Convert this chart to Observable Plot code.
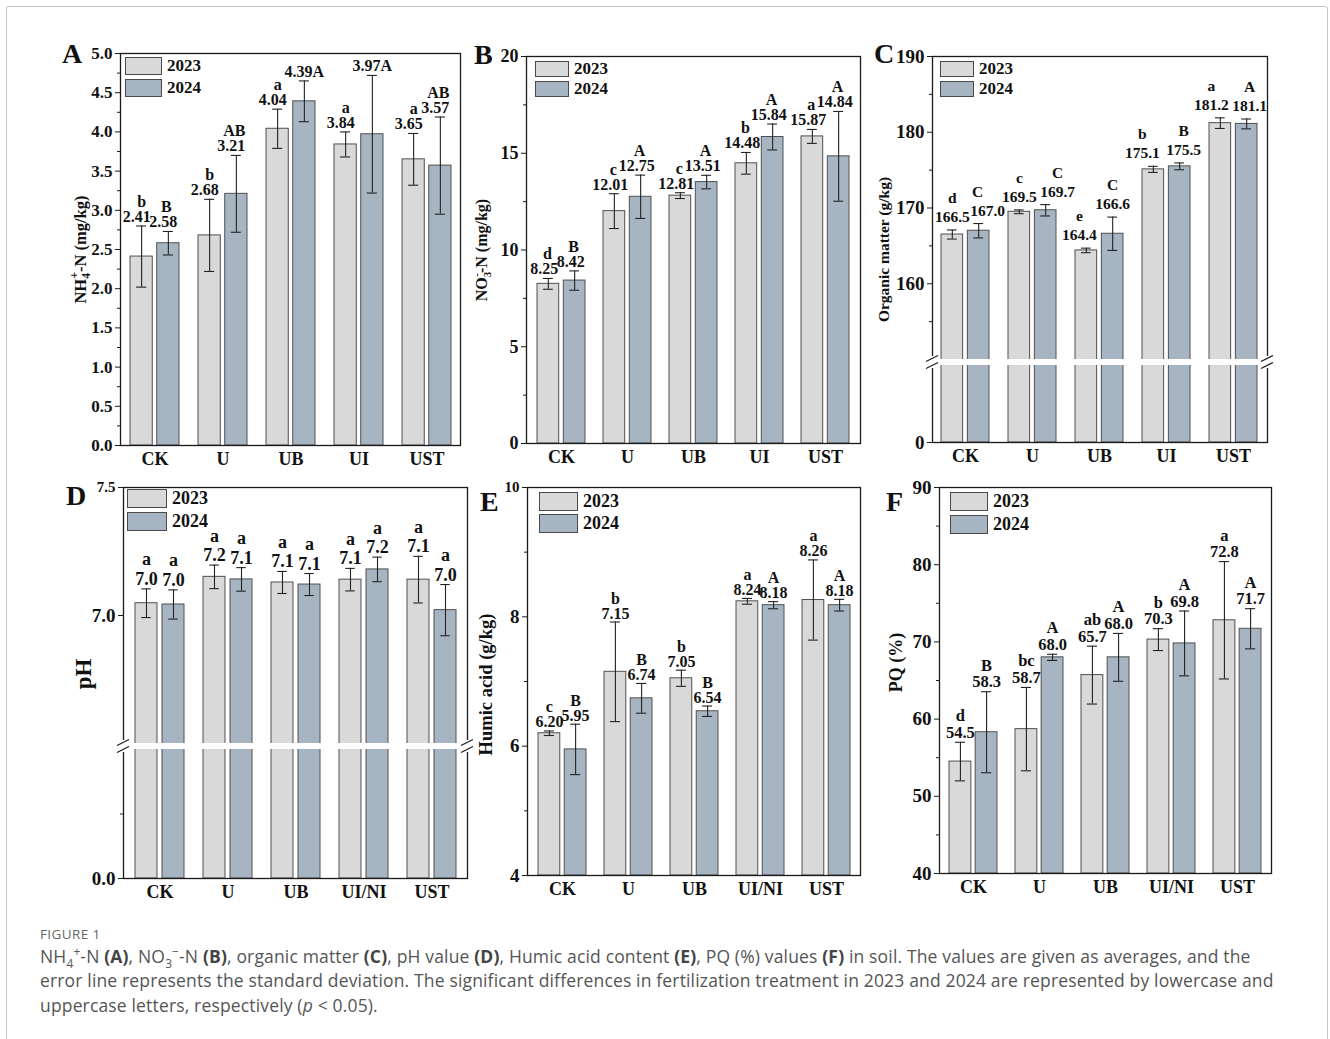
<!DOCTYPE html>
<html>
<head>
<meta charset="utf-8">
<script src="https://cdn.jsdelivr.net/npm/d3@7"></script>
<script src="https://cdn.jsdelivr.net/npm/@observablehq/plot@0.6"></script>
<style>
  body { margin: 0; background: #fff; }
  #root { position: relative; width: 1330px; height: 1039px; overflow: hidden; font-family: "Liberation Serif", "Times New Roman", serif; }
  .border { position: absolute; left: 6px; top: 6px; width: 1320px; height: 1100px; border: 1px solid #c4c4c4; border-radius: 3px; }
  .panel { position: absolute; }
  .plabel { position: absolute; font-weight: bold; font-size: 28px; line-height: 1; color: #111; }
  .legend { position: absolute; font-weight: bold; color: #111; }
  .legend .row { position: absolute; display: flex; align-items: center; white-space: nowrap; }
  .legend .sw { box-sizing: border-box; border: 1.3px solid #4a4a4a; margin-right: 5px; }
  .captitle { position: absolute; left: 40px; top: 925px; font-family: "Open Sans", sans-serif; font-size: 13.5px; color: #666; letter-spacing: 0.4px; }
  .cap { position: absolute; left: 40px; top: 944px; font-family: "Open Sans", sans-serif; font-size: 17.5px; line-height: 24.3px; color: #555; white-space: nowrap; letter-spacing: 0.16px; }
  .cap sub, .cap sup { font-size: 68%; line-height: 0; }
  .cap b { font-weight: 700; color: #444; }
</style>
</head>
<body>
<div id="root">
  <div class="border"></div>
</div>
<script>
// ---------- data ----------
const categoriesTop = ["CK", "U", "UB", "UI", "UST"];
const categoriesBottom = ["CK", "U", "UB", "UI/NI", "UST"];
const years = ["2023", "2024"];

// A: NH4+-N (mg/kg)
const nh4Mean2023 = [2.41, 2.68, 4.04, 3.84, 3.65];
const nh4Sd2023   = [0.39, 0.46, 0.25, 0.16, 0.33];
const nh4Mean2024 = [2.58, 3.21, 4.39, 3.97, 3.57];
const nh4Sd2024   = [0.15, 0.49, 0.26, 0.75, 0.62];
const nh4Letters2023 = ["b", "b", "a", "a", "a"];
const nh4Letters2024 = ["B", "AB", "A", "A", "AB"];
const nh4Ticks = [0, 0.5, 1.0, 1.5, 2.0, 2.5, 3.0, 3.5, 4.0, 4.5, 5.0];
const nh4Minor = [0.25, 0.75, 1.25, 1.75, 2.25, 2.75, 3.25, 3.75, 4.25, 4.75];

// B: NO3--N (mg/kg)
const no3Mean2023 = [8.25, 12.01, 12.81, 14.48, 15.87];
const no3Sd2023   = [0.28, 0.90, 0.15, 0.56, 0.36];
const no3Mean2024 = [8.42, 12.75, 13.51, 15.84, 14.84];
const no3Sd2024   = [0.50, 1.12, 0.35, 0.67, 2.32];
const no3Letters2023 = ["d", "c", "c", "b", "a"];
const no3Letters2024 = ["B", "A", "A", "A", "A"];
const no3Ticks = [0, 5, 10, 15, 20];
const no3Minor = [2.5, 7.5, 12.5, 17.5];

// C: Organic matter (g/kg)
const omMean2023 = [166.5, 169.5, 164.4, 175.1, 181.2];
const omSd2023   = [0.6, 0.25, 0.3, 0.4, 0.7];
const omMean2024 = [167.0, 169.7, 166.6, 175.5, 181.1];
const omSd2024   = [0.95, 0.75, 2.2, 0.45, 0.65];
const omLetters2023 = ["d", "c", "e", "b", "a"];
const omLetters2024 = ["C", "C", "C", "B", "A"];
const omTicks = [0, 160, 170, 180, 190];
const omMinor = [155, 165, 175, 185];

// D: pH
const phMean2023 = [7.048, 7.151, 7.129, 7.14, 7.14];
const phSd2023   = [0.056, 0.046, 0.043, 0.044, 0.091];
const phMean2024 = [7.043, 7.141, 7.121, 7.180, 7.021];
const phSd2024   = [0.057, 0.046, 0.043, 0.048, 0.10];
const phLetters2023 = ["a", "a", "a", "a", "a"];
const phLetters2024 = ["a", "a", "a", "a", "a"];
const phTicks = [0, 7.0, 7.5];
const phMinor = [3.0];

// E: Humic acid (g/kg)
const haMean2023 = [6.20, 7.15, 7.05, 8.24, 8.26];
const haSd2023   = [0.035, 0.77, 0.125, 0.045, 0.62];
const haMean2024 = [5.95, 6.74, 6.54, 8.18, 8.18];
const haSd2024   = [0.39, 0.23, 0.08, 0.055, 0.09];
const haLetters2023 = ["c", "b", "b", "a", "a"];
const haLetters2024 = ["B", "B", "B", "A", "A"];
const haTicks = [4, 6, 8, 10];
const haMinor = [5, 7, 9];

// F: PQ (%)
const pqMean2023 = [54.5, 58.7, 65.7, 70.3, 72.8];
const pqSd2023   = [2.5, 5.4, 3.75, 1.42, 7.6];
const pqMean2024 = [58.3, 68.0, 68.0, 69.8, 71.7];
const pqSd2024   = [5.25, 0.4, 3.1, 4.2, 2.6];
const pqLetters2023 = ["d", "bc", "ab", "b", "a"];
const pqLetters2024 = ["B", "A", "A", "A", "A"];
const pqTicks = [40, 50, 60, 70, 80, 90];
const pqMinor = [45, 55, 65, 75, 85];

// ---------- styling / layout ----------
const fill2023 = "#d9d9d9";
const fill2024 = "#a7b5c2";

const panels = [
  { id: "A", cats: categoriesTop, m23: nh4Mean2023, sd23: nh4Sd2023, m24: nh4Mean2024, sd24: nh4Sd2024, l23: nh4Letters2023, l24: nh4Letters2024,
    L: 120, R: 460, T: 53, B: 445, domain: [0, 5], ticks: nh4Ticks, minor: nh4Minor, fmt: d => d.toFixed(1), vdig: 2,
    tfs: 17, lfs: 16, vgap: 4, lgap: 15, inline24: ["UB", "UI"],
    nudge: { v23: -5, v24: -5, l23: 0, l24: -2 },
    ylabel: "NH4+-N (mg/kg)", rich: 'NH<tspan font-size="11.5" dy="4">4</tspan><tspan font-size="11.5" dx="-5.5" dy="-11.5">+</tspan><tspan dy="7.5">-N (mg/kg)</tspan>',
    ylx: -40, yly: 0, ylfs: 16.5, leg: { dx: 5, dy: 4, w: 37, h: 18, gap: 4, fs: 17 }, letterPos: [62, 40] },
  { id: "B", cats: categoriesTop, m23: no3Mean2023, sd23: no3Sd2023, m24: no3Mean2024, sd24: no3Sd2024, l23: no3Letters2023, l24: no3Letters2024,
    L: 526, R: 860, T: 56, B: 443, domain: [0, 20], ticks: no3Ticks, minor: no3Minor, fmt: d => String(d), vdig: 2,
    tfs: 18, lfs: 16, vgap: 4, lgap: 15, inline24: [],
    nudge: { v23: -4, v24: -4, l23: -1, l24: -1 },
    ylabel: "NO3--N (mg/kg)", rich: 'NO<tspan font-size="11" dy="4">3</tspan><tspan font-size="11" dx="-5" dy="-11">-</tspan><tspan dy="7">-N (mg/kg)</tspan>',
    ylx: -45, yly: 0, ylfs: 16, leg: { dx: 9, dy: 5, w: 34, h: 16, gap: 4, fs: 17 }, letterPos: [474, 41] },
  { id: "C", cats: categoriesTop, m23: omMean2023, sd23: omSd2023, m24: omMean2024, sd24: omSd2024, l23: omLetters2023, l24: omLetters2024,
    L: 932, R: 1267, T: 56, B: 442, domain: [0, 140, 150, 190], range: [442, 365, 359, 56], brk: [140, 150],
    ticks: omTicks, minor: omMinor, fmt: d => String(d), vdig: 1,
    tfs: 19, lfs: 15.5, vgap: 8, lgap: 19, inline24: [],
    nudge: { v23: [0, 0, -7, -11, -9], v24: [9, 12, 0, 4, 3], l23: [0, 0, -7, -11, -9], l24: [-1, 12, 0, 4, 3] },
    ylabel: "Organic matter (g/kg)", rich: null,
    ylx: -48, yly: 0, ylfs: 15.5, leg: { dx: 8, dy: 5, w: 34, h: 16, gap: 4, fs: 17 }, letterPos: [874, 40] },
  { id: "D", cats: categoriesBottom, m23: phMean2023, sd23: phSd2023, m24: phMean2024, sd24: phSd2024, l23: phLetters2023, l24: phLetters2024,
    L: 123, R: 467, T: 487, B: 878, domain: [0, 6, 6.5, 7.5], range: [878, 749, 743, 487], brk: [6, 6.5],
    ticks: phTicks, minor: phMinor, fmt: d => d.toFixed(1), vdig: 1, smallTop: "7.5",
    tfs: 19, lfs: 18, vgap: 4, lgap: 19.5, inline24: [],
    nudge: { v23: 0, v24: 0, l23: 0, l24: 0 },
    ylabel: "pH", rich: null,
    ylx: -40, yly: -9, ylfs: 23, leg: { dx: 4, dy: 2, w: 40, h: 19, gap: 4, fs: 18 }, letterPos: [66, 482] },
  { id: "E", cats: categoriesBottom, m23: haMean2023, sd23: haSd2023, m24: haMean2024, sd24: haSd2024, l23: haLetters2023, l24: haLetters2024,
    L: 527, R: 860, T: 487, B: 875, domain: [4, 10], ticks: haTicks, minor: haMinor, fmt: d => String(d), vdig: 2, smallTop: "10",
    tfs: 19, lfs: 16, vgap: 3.5, lgap: 15, inline24: [],
    nudge: { v23: 0, v24: 0, l23: 0, l24: 0 },
    ylabel: "Humic acid (g/kg)", rich: null,
    ylx: -41, yly: 3, ylfs: 18.5, leg: { dx: 12, dy: 5, w: 39, h: 19, gap: 3, fs: 18 }, letterPos: [480, 488] },
  { id: "F", cats: categoriesBottom, m23: pqMean2023, sd23: pqSd2023, m24: pqMean2024, sd24: pqSd2024, l23: pqLetters2023, l24: pqLetters2024,
    L: 939, R: 1271, T: 487, B: 873, domain: [40, 90], ticks: pqTicks, minor: pqMinor, fmt: d => String(d), vdig: 1,
    tfs: 19, lfs: 16.5, vgap: 4.5, lgap: 16.5, inline24: [],
    nudge: { v23: 0, v24: 0, l23: 0, l24: 0 },
    ylabel: "PQ (%)", rich: null,
    ylx: -43, yly: -18, ylfs: 18, leg: { dx: 11, dy: 5, w: 38, h: 19, gap: 4, fs: 18 }, letterPos: [886, 488] }
];

const root = document.getElementById("root");

function nudgeAt(n, i) { return Array.isArray(n) ? n[i] : n; }

function build(p) {
  const m = { top: 14, right: 16, bottom: 40, left: 84 };
  const W = p.R - p.L, H = p.B - p.T;
  const width = W + m.left + m.right, height = H + m.top + m.bottom;
  const step = W / 5, bw = step * 0.72, gap = 4.5, barW = (bw - gap) / 2;
  const centers = { "2023": barW / 2, "2024": barW + gap + barW / 2 };
  const rows = [];
  p.cats.forEach((c, i) => {
    rows.push({ i, cat: c, year: "2023", v: p.m23[i], sd: p.sd23[i], letter: p.l23[i] });
    rows.push({ i, cat: c, year: "2024", v: p.m24[i], sd: p.sd24[i], letter: p.l24[i] });
  });
  const oy = p.T - m.top;
  const yScale = p.range
    ? { type: "linear", domain: p.domain, range: p.range.map(v => v - oy) }
    : { domain: p.domain };
  const base = p.domain[0];
  const marks = [];
  for (const yr of years) {
    const data = rows.filter(d => d.year === yr);
    const is23 = yr === "2023";
    marks.push(Plot.barY(data, {
      x: "cat", y1: base, y2: "v", fill: is23 ? fill2023 : fill2024,
      stroke: "#505050", strokeWidth: 1,
      insetLeft: is23 ? 0 : barW + gap, insetRight: is23 ? barW + gap : 0
    }));
  }
  for (const yr of years) {
    const data = rows.filter(d => d.year === yr);
    const c = centers[yr];
    const is23 = yr === "2023";
    marks.push(Plot.ruleX(data, { x: "cat", y1: d => d.v - d.sd, y2: d => d.v + d.sd, dx: c - bw / 2, stroke: "#222", strokeWidth: 1.1 }));
    marks.push(Plot.tickY(data, { x: "cat", y: d => d.v + d.sd, insetLeft: c - 5, insetRight: bw - c - 5, stroke: "#222", strokeWidth: 1.1 }));
    marks.push(Plot.tickY(data, { x: "cat", y: d => d.v - d.sd, insetLeft: c - 5, insetRight: bw - c - 5, stroke: "#222", strokeWidth: 1.1 }));
    data.forEach(d => {
      const inline = !is23 && p.inline24.includes(d.cat);
      const vn = inline ? 0 : nudgeAt(is23 ? p.nudge.v23 : p.nudge.v24, d.i);
      const ln = nudgeAt(is23 ? p.nudge.l23 : p.nudge.l24, d.i);
      marks.push(Plot.text([d], {
        x: "cat", y: r => r.v + r.sd,
        text: r => inline ? r.v.toFixed(p.vdig) + r.letter : r.v.toFixed(p.vdig),
        dx: c - bw / 2 + vn, dy: -p.vgap, lineAnchor: "bottom",
        fontSize: p.lfs, fontWeight: "bold", fill: "#111"
      }));
      if (!inline) {
        marks.push(Plot.text([d], {
          x: "cat", y: r => r.v + r.sd, text: "letter",
          dx: c - bw / 2 + ln, dy: -(p.vgap + p.lgap), lineAnchor: "bottom",
          fontSize: p.lfs, fontWeight: "bold", fill: "#111"
        }));
      }
    });
  }
  marks.push(Plot.frame({ stroke: "#1a1a1a", strokeWidth: 1.3 }));
  if (p.brk) {
    marks.push(Plot.rect([0], { y1: p.brk[0], y2: p.brk[1], fill: "white", insetLeft: -4, insetRight: -4 }));
  }
  marks.push(Plot.axisY({ ticks: p.minor, tickSize: 3, tickFormat: () => "", label: null, stroke: "#1a1a1a" }));
  marks.push(Plot.axisY({ ticks: p.ticks, tickSize: 5, tickPadding: 3, tickFormat: p.fmt, label: null, fontSize: p.tfs, fontWeight: "bold", stroke: "#1a1a1a" }));
  marks.push(Plot.axisX({ tickSize: 0, tickPadding: 7, label: null, fontSize: 18, fontWeight: "bold" }));
  marks.push(Plot.text([p.ylabel], { text: d => d, frameAnchor: "left", textAnchor: "middle", rotate: -90, dx: p.ylx, dy: p.yly, fontSize: p.ylfs, fontWeight: "bold", fill: "#111" }));

  const plot = Plot.plot({
    width, height,
    marginTop: m.top, marginRight: m.right, marginBottom: m.bottom, marginLeft: m.left,
    x: { type: "band", domain: p.cats, paddingInner: 0.28, paddingOuter: 0.14, axis: null },
    y: { ...yScale, axis: null },
    style: { background: "transparent", overflow: "visible", fontFamily: "'Liberation Serif', 'Times New Roman', serif", fontWeight: "bold", fontSize: "17px", color: "#111" },
    marks
  });

  if (p.rich) {
    plot.querySelectorAll("text").forEach(t => { if (t.textContent === p.ylabel) t.innerHTML = p.rich; });
  }
  if (p.smallTop) {
    plot.querySelectorAll("text").forEach(t => { if (t.textContent === p.smallTop) t.setAttribute("font-size", "15"); });
  }
  if (p.brk) {
    const ys = plot.scale("y");
    const yb = (ys.apply(p.brk[0]) + ys.apply(p.brk[1])) / 2;
    const ns = "http://www.w3.org/2000/svg";
    const g = document.createElementNS(ns, "g");
    g.setAttribute("stroke", "#1a1a1a");
    g.setAttribute("stroke-width", "1.2");
    for (const x0 of [m.left, m.left + W]) {
      const wr = document.createElementNS(ns, "rect");
      wr.setAttribute("x", x0 - 4); wr.setAttribute("y", yb - 6); wr.setAttribute("width", 8); wr.setAttribute("height", 12);
      wr.setAttribute("fill", "white"); wr.setAttribute("stroke", "none");
      g.appendChild(wr);
      for (const off of [-3.5, 3.5]) {
        const l = document.createElementNS(ns, "line");
        l.setAttribute("x1", x0 - 6); l.setAttribute("y1", yb + off + 3);
        l.setAttribute("x2", x0 + 6); l.setAttribute("y2", yb + off - 3);
        g.appendChild(l);
      }
    }
    plot.appendChild(g);
  }

  const div = document.createElement("div");
  div.className = "panel";
  div.style.left = (p.L - m.left) + "px";
  div.style.top = (p.T - m.top) + "px";
  div.style.width = width + "px";
  div.appendChild(plot);
  root.appendChild(div);

  const lg = document.createElement("div");
  lg.className = "legend";
  lg.style.left = (p.L + p.leg.dx) + "px";
  lg.style.top = (p.T + p.leg.dy) + "px";
  lg.style.fontSize = p.leg.fs + "px";
  years.forEach((yr, i) => {
    const row = document.createElement("div");
    row.className = "row";
    row.style.top = (i * (p.leg.h + p.leg.gap)) + "px";
    row.style.height = p.leg.h + "px";
    const sw = document.createElement("div");
    sw.className = "sw";
    sw.style.width = p.leg.w + "px";
    sw.style.height = p.leg.h + "px";
    sw.style.background = yr === "2023" ? fill2023 : fill2024;
    const tx = document.createElement("span");
    tx.textContent = yr;
    row.appendChild(sw); row.appendChild(tx);
    lg.appendChild(row);
  });
  root.appendChild(lg);

  const pl = document.createElement("div");
  pl.className = "plabel";
  pl.style.left = p.letterPos[0] + "px";
  pl.style.top = p.letterPos[1] + "px";
  pl.textContent = p.id;
  root.appendChild(pl);
}

panels.forEach(build);

const ct = document.createElement("div");
ct.className = "captitle";
ct.textContent = "FIGURE 1";
root.appendChild(ct);
const cap = document.createElement("div");
cap.className = "cap";
cap.innerHTML = 'NH<sub>4</sub><sup>+</sup>-N <b>(A)</b>, NO<sub>3</sub><sup>−</sup>-N <b>(B)</b>, organic matter <b>(C)</b>, pH value <b>(D)</b>, Humic acid content <b>(E)</b>, PQ (%) values <b>(F)</b> in soil. The values are given as averages, and the<br>' +
  'error line represents the standard deviation. The significant differences in fertilization treatment in 2023 and 2024 are represented by lowercase and<br>' +
  'uppercase letters, respectively (<i>p</i> &lt; 0.05).';
root.appendChild(cap);
</script>
</body>
</html>
